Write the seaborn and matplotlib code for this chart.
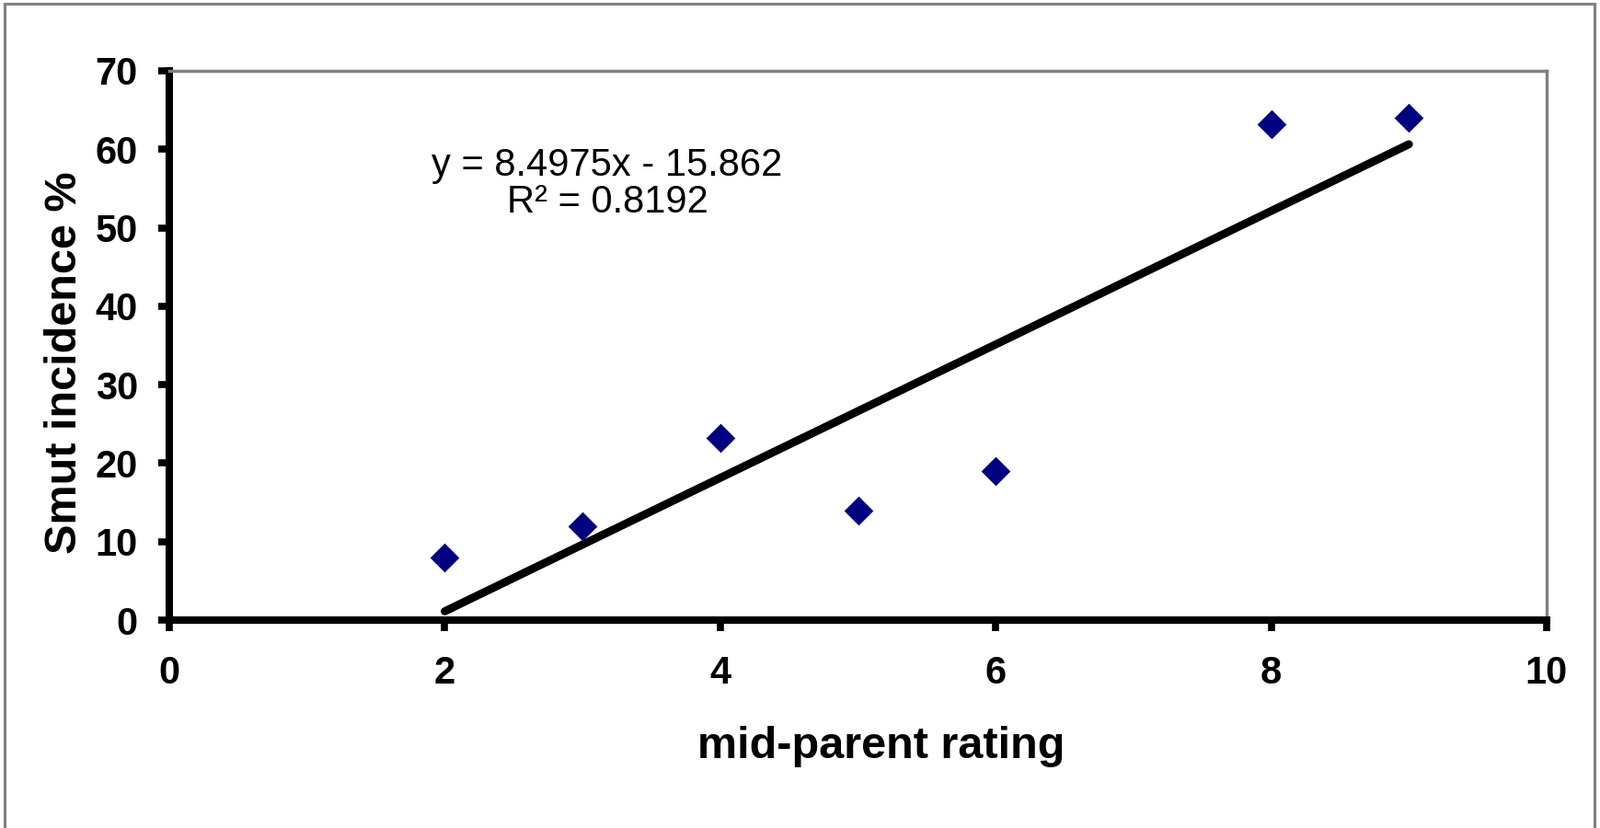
import matplotlib
matplotlib.use("Agg")
import matplotlib.pyplot as plt
import seaborn as sns
import pandas as pd
from matplotlib.patches import Rectangle

# data
mid_parent = [2, 3, 4, 5, 6, 8, 9]
smut_pct = [8, 12, 23.2, 14, 19, 63.2, 64]
equation_text = "y = 8.4975x - 15.862\nR\u00b2 = 0.8192"
x_ticks = [0, 2, 4, 6, 8, 10]
y_ticks = [0, 10, 20, 30, 40, 50, 60, 70]

df = pd.DataFrame({"rating": mid_parent, "smut": smut_pct})

sns.set_theme(style="white")
plt.rcParams["font.family"] = ["Liberation Sans", "DejaVu Sans"]
for key in ["text.color", "axes.labelcolor", "xtick.color", "ytick.color"]:
    plt.rcParams[key] = "black"

fig = plt.figure(figsize=(17.4, 9), dpi=100)
ax = fig.add_axes([184 / 1740, 1 - 674 / 900, (1681 - 184) / 1740, (674 - 77) / 900])

# trend line first so the markers sit on top
sns.regplot(data=df, x="rating", y="smut", ax=ax, scatter=False, ci=None,
            color="black", line_kws={"lw": 6.3, "solid_capstyle": "round"})
sns.scatterplot(data=df, x="rating", y="smut", ax=ax, marker="D", s=260,
                color="#000080", edgecolor="#000080", linewidth=0, zorder=3)

ax.set_xlim(0, 10)
ax.set_ylim(0, 70)
ax.set_xticks(x_ticks)
ax.set_yticks(y_ticks)
ax.tick_params(axis="both", which="major", direction="out", length=8.5, width=5.5,
               color="black", labelsize=30, bottom=True, left=True)
ax.tick_params(axis="x", pad=19)
ax.tick_params(axis="y", pad=16)
for lab in ax.get_xticklabels() + ax.get_yticklabels():
    lab.set_fontweight("bold")

for side in ["left", "bottom"]:
    ax.spines[side].set_color("black")
    ax.spines[side].set_linewidth(5.8)
    ax.spines[side].set_zorder(2.5)
for side in ["top", "right"]:
    ax.spines[side].set_color("#808080")
    ax.spines[side].set_linewidth(2.5)

ax.set_xlabel("mid-parent rating", fontsize=35, fontweight="bold", va="center")
ax.set_ylabel("Smut incidence %", fontsize=35, fontweight="bold", va="center")
ax.xaxis.set_label_coords(0.517, -0.231)
ax.yaxis.set_label_coords(-0.0755, 0.469)

ax.text(3.18, 55.6, equation_text, fontsize=30, ha="center", va="center",
        linespacing=1.0)

# outer chart frame (bottom edge falls outside the image)
fig.patches.append(Rectangle((5 / 1740, -0.05), 1728 / 1740, 1.05 - 4 / 900,
                             transform=fig.transFigure, fill=False,
                             edgecolor="#808080", lw=2.2))

fig.savefig("out.png", dpi=100, facecolor="white")
